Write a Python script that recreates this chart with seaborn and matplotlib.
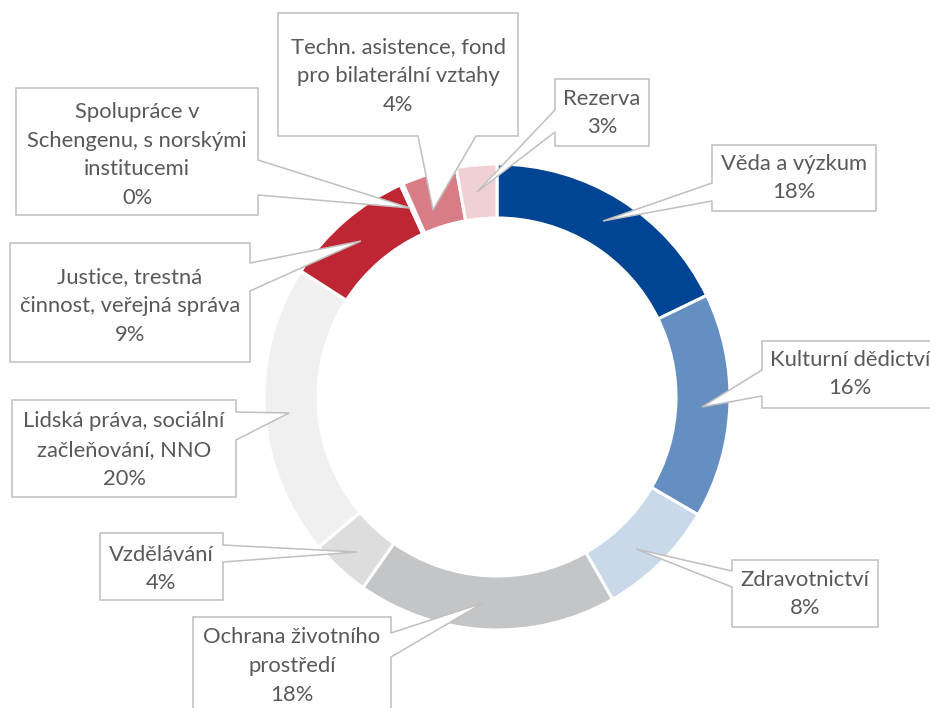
import matplotlib
matplotlib.use("Agg")
import matplotlib.pyplot as plt
from matplotlib.patches import Polygon
import seaborn as sns

# podíly programových oblastí (%)
oblasti = [
    "Věda a výzkum",
    "Kulturní dědictví",
    "Zdravotnictví",
    "Ochrana životního\nprostředí",
    "Vzdělávání",
    "Lidská práva, sociální\nzačleňování, NNO",
    "Justice, trestná\nčinnost, veřejná správa",
    "Spolupráce v\nSchengenu, s norskými\ninstitucemi",
    "Techn. asistence, fond\npro bilaterální vztahy",
    "Rezerva",
]
podily = [17.8, 15.6, 8.3, 18.0, 4.1, 20.2, 9.1, 0.2, 3.8, 2.8]
barvy = ["#004494", "#668FC1", "#C9D9EA", "#C4C5C7", "#DCDDDC",
         "#F0F0F0", "#BF2633", "#C9404A", "#D87D85", "#F1D0D3"]

# rozložení popisků (pixely): box, text, špička, body na hraně boxu
boxy = [
    ((712, 145, 876, 211), (794, 178), (603, 221), ((712, 183), (712, 201))),
    ((762, 341, 940, 408), (850, 374), (702, 407), ((762, 370), (762, 396))),
    ((732, 560, 878, 627), (805, 594), (636, 549), ((732, 571), (732, 587))),
    ((193, 617, 391, 736), (292, 666), (483, 603), ((391, 633), (391, 657))),
    ((100, 533, 223, 600), (161, 569), (357, 552), ((223, 545), (223, 562))),
    ((12, 400, 236, 497), (124, 450), (289, 413), ((236, 412), (236, 440))),
    ((10, 243, 250, 362), (130, 306), (361, 241), ((250, 263), (250, 291))),
    ((16, 88, 258, 215), (137, 155), (410, 208), ((258, 160), (258, 195))),
    ((278, 13, 518, 136), (398, 76), (433, 210), ((418, 136), (476, 136))),
    ((555, 79, 649, 146), (602, 113), (477, 192), ((555, 110), (555, 132))),
]

sns.set_theme(style="white")
plt.rcParams["font.family"] = ["Lato", "DejaVu Sans"]
paleta = sns.color_palette(barvy)

fig = plt.figure(figsize=(9.3, 7.08), dpi=100)
ax = fig.add_axes([0, 0, 1, 1])

ax.pie(podily, colors=paleta, radius=233, center=(497, 397),
       startangle=-90, counterclock=True,
       wedgeprops=dict(width=54, edgecolor="white", linewidth=2.2))

celkem = sum(podily)
for nazev, hodnota, (box, txt, tip, zaklad) in zip(oblasti, podily, boxy):
    x0, y0, x1, y1 = box
    (bx0, by0), (bx1, by1) = zaklad
    if bx0 == x1:  # pravá hrana
        body = [(x0, y0), (x1, y0), (x1, by0), tip, (x1, by1), (x1, y1), (x0, y1)]
    elif bx0 == x0:  # levá hrana
        body = [(x0, y0), (x1, y0), (x1, y1), (x0, y1), (x0, by1), tip, (x0, by0)]
    else:  # spodní hrana
        body = [(x0, y0), (x1, y0), (x1, y1), (bx1, y1), tip, (bx0, y1), (x0, y1)]
    ax.add_patch(Polygon(body, closed=True, facecolor="white",
                         edgecolor="#BFBFBF", linewidth=1.1, zorder=3))
    ax.text(txt[0], txt[1], f"{nazev}\n{round(hodnota / celkem * 100)}%",
            ha="center", va="center", fontsize=15.8, color="#595959",
            linespacing=1.55, zorder=4)

ax.set_xlim(0, 930)
ax.set_ylim(708, 0)
ax.set_aspect("equal")
ax.axis("off")

fig.savefig("out.png", dpi=100)
